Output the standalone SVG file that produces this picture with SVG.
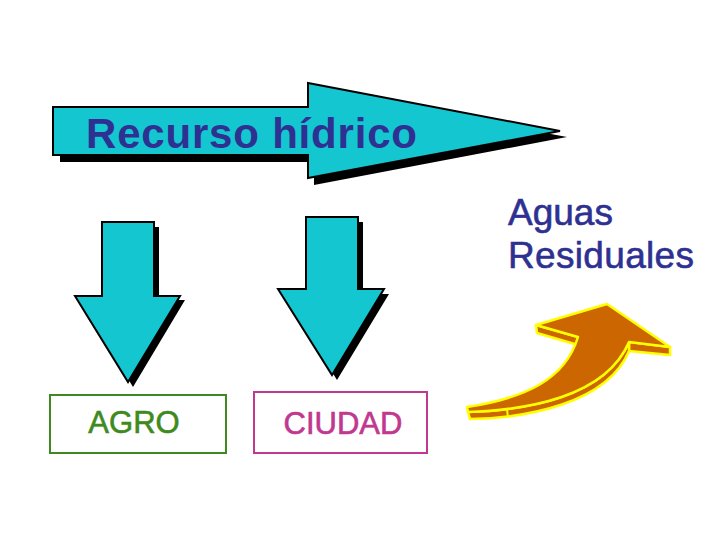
<svg xmlns="http://www.w3.org/2000/svg" width="720" height="540" viewBox="0 0 720 540">
<style>
.cy{fill:#14C6CF;stroke:#000;stroke-width:2;stroke-linejoin:miter}
.sh{fill:#000}
.t{font-family:"Liberation Sans",Arial,sans-serif}
.or{fill:#CC6600;stroke:#FFFF00;stroke-width:2.5;stroke-linejoin:round}
</style>
<rect width="720" height="540" fill="#fff"/>
<g id="recurso">
<polygon class="sh" points="60,114 314,114 314,90 567,137 314,185 314,162 60,162"/>
<polygon class="cy" points="53,107 308,107 308,83 560,131 308,178 308,155 53,155"/>
<text class="t" x="86" y="148" font-size="42" font-weight="bold" fill="#2E3192" textLength="331">Recurso hídrico</text>
</g>
<g id="arrow-agro">
<polygon class="sh" points="107,227 159,227 159,300 185,300 133,387 80,300 107,300"/>
<polygon class="cy" points="102,222 154,222 154,296 180,296 128,382 75,296 102,296"/>
</g>
<g id="arrow-ciudad">
<polygon class="sh" points="311,222 363,222 363,294 389,294 337,380 283,294 311,294"/>
<polygon class="cy" points="306,217 358,217 358,289 384,289 332,375 278,289 306,289"/>
</g>
<g id="agro">
<rect x="50" y="395" width="176" height="58" fill="#fff" stroke="#3F8A1E" stroke-width="2"/>
<text class="t" x="134" y="433" font-size="31" fill="#3F8A1E" text-anchor="middle" stroke="#3F8A1E" stroke-width="0.6">AGRO</text>
</g>
<g id="ciudad">
<rect x="254" y="392" width="173" height="61" fill="#fff" stroke="#C0388F" stroke-width="2"/>
<text class="t" x="343" y="434" font-size="31" fill="#C0388F" text-anchor="middle" stroke="#C0388F" stroke-width="0.6">CIUDAD</text>
</g>
<g id="aguas">
<text class="t" x="508" y="225" font-size="37" fill="#2E3192" stroke="#2E3192" stroke-width="0.6">Aguas</text>
<text class="t" x="508" y="268" font-size="37" fill="#2E3192" stroke="#2E3192" stroke-width="0.6" textLength="186">Residuales</text>
</g>
<g id="curved-arrow">
<path class="or" d="M536,325 L578,337 L578,345 L537,333 Z"/>
<path class="or" d="M629,342 L670,347 L670,355 L629,351 Z"/>
<path class="or" d="M468,412 C525,410 605,398 629,342 L629,351 C607,404 525,418 470,419 Z"/>
<path class="or" d="M607,304 L670,347 L629,342 C605,398 525,410 468,412 L467,407 C525,398 565,380 578,337 L536,325 Z"/>
<line x1="507" y1="409" x2="508" y2="418" stroke="#FFFF00" stroke-width="2"/>
</g>
</svg>
